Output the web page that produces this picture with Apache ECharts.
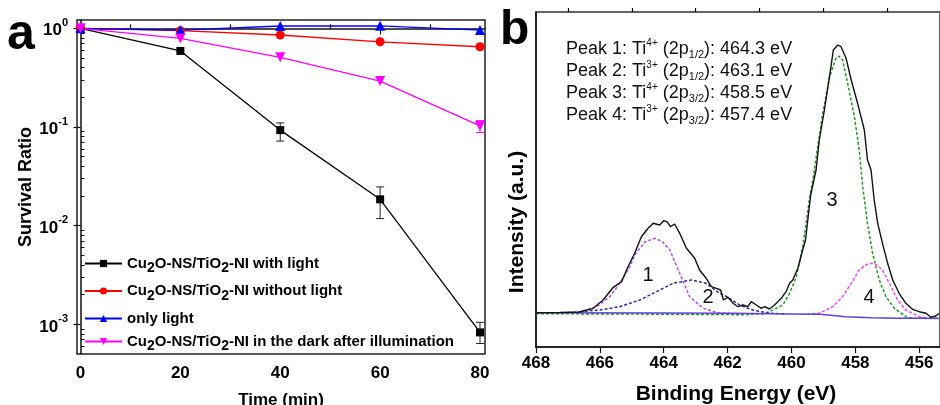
<!DOCTYPE html>
<html>
<head>
<meta charset="utf-8">
<script src="https://cdn.jsdelivr.net/npm/echarts@6/dist/echarts.min.js"></script>
<style>
  html, body { margin: 0; padding: 0; background: #fff; }
  #chart { width: 940px; height: 405px; }
</style>
</head>
<body>
<div id="chart"></div>
<script>
// ---- panel a : survival ratio vs time ----
const times = [0, 20, 40, 60, 80];
const withLight = [1.0, 0.59, 0.093, 0.0185, 0.00083];
const withoutLight = [1.0, 0.945, 0.855, 0.73, 0.65];
const onlyLight = [1.0, 0.96, 1.055, 1.06, 0.96];
const darkAfter = [1.0, 0.79, 0.508, 0.292, 0.1026];
// error bars [time, low, high]
const withLightErr = [[40, 0.072, 0.110], [60, 0.0118, 0.0247], [80, 0.00064, 0.00105]];
const darkAfterErr = [[80, 0.088, 0.116]];
const seriesNames = [
  'Cu2O-NS/TiO2-NI with light',
  'Cu2O-NS/TiO2-NI without light',
  'only light',
  'Cu2O-NS/TiO2-NI in the dark after illumination'
];
const timeTicks = [0, 20, 40, 60, 80];
const timeMinorTicks = [10, 30, 50, 70];
const decades = [-3, -2, -1, 0];

// ---- panel b : XPS Ti 2p ----
const measured = [
  [468.00, 34.3], [467.25, 34.5], [466.63, 35], [466.21, 38.7], [465.90, 47], [465.58, 59.7],
  [465.32, 65.3], [465.12, 80.3], [464.91, 93.7], [464.70, 110.3], [464.49, 118.7], [464.33, 123.7],
  [464.13, 122], [464.00, 126.3], [463.90, 125.3], [463.79, 120.3], [463.66, 123], [463.50, 113.7],
  [463.29, 98.7], [463.03, 88.7], [462.88, 77], [462.67, 68.7], [462.51, 60.3], [462.35, 58.7],
  [462.22, 57], [462.13, 47], [461.99, 49.7], [461.83, 43.7], [461.68, 40.3], [461.52, 42],
  [461.37, 40.3], [461.26, 45.3], [461.10, 42], [460.95, 38.7], [460.84, 40.3], [460.69, 38],
  [460.53, 42], [460.32, 48.7], [460.17, 55.3], [460.06, 63.7], [459.96, 67], [459.80, 78.7],
  [459.65, 97], [459.56, 107], [459.49, 127], [459.40, 152], [459.23, 177], [459.13, 207],
  [458.97, 237], [458.81, 270.3], [458.69, 297], [458.55, 302], [458.45, 300.3], [458.29, 288.7],
  [458.13, 267], [457.93, 243.7], [457.72, 217], [457.62, 187], [457.51, 177], [457.41, 147],
  [457.30, 123.7], [457.15, 103.7], [456.99, 83.7], [456.83, 67], [456.63, 53.7], [456.42, 43.7],
  [456.21, 37.7], [456.00, 35.3], [455.79, 33.7], [455.63, 29.7], [455.48, 31], [455.38, 33.7]
];
const peak1 = [
  [467.0, 34.5], [466.63, 35.3], [466.1, 40.3], [465.69, 50.3], [465.38, 63.7], [465.06, 80.3],
  [464.91, 92], [464.59, 105], [464.28, 108.7], [464.05, 105.5], [463.81, 97], [463.5, 73.7],
  [463.19, 50.3], [462.77, 38.7], [462.25, 33.7], [461.5, 33.5]
];
const peak2 = [
  [466.63, 35.3], [466.0, 37], [465.38, 40.3], [464.75, 47], [464.23, 55.3], [463.71, 63.7],
  [463.13, 67], [462.67, 63.7], [462.25, 53.7], [462.0, 50], [461.63, 42], [461.21, 37],
  [460.69, 33.7], [460.2, 33]
];
const peak3 = [
  [468, 33.3], [464, 32.8], [461.5, 32.3], [460.9, 33.2], [460.69, 35.3], [460.48, 38.7],
  [460.27, 42], [460.06, 53.7], [459.85, 70], [459.65, 100], [459.44, 147], [459.33, 167],
  [459.18, 200], [459.02, 233.7], [458.81, 270], [458.62, 288], [458.52, 291], [458.4, 287],
  [458.24, 263.7], [458.03, 230.3], [457.88, 197], [457.77, 160], [457.62, 123.7], [457.46, 93.7],
  [457.25, 67], [457.04, 50.3], [456.78, 38.7], [456.42, 30.3], [456.2, 28.7], [455.35, 28.5]
];
const peak4 = [
  [459.5, 32.8], [459.13, 33.7], [458.71, 40.3], [458.4, 50.3], [458.13, 63.7], [457.88, 77],
  [457.65, 82.5], [457.46, 83.7], [457.3, 81.5], [457.15, 77], [456.88, 60.3], [456.68, 47],
  [456.42, 37], [456.0, 30.3], [455.7, 28.7]
];
const background = [
  [468, 34.3], [464, 34], [462, 33.8], [460, 33], [459.1, 32.7], [458.3, 30.3],
  [457.5, 29.2], [456.7, 28.7], [455.35, 28.7]
];
const energyTicks = [456, 458, 460, 462, 464, 466, 468];
const energyMinorTicks = [457, 459, 461, 463, 465, 467];
const peakInfo = [
  'Peak 1: Ti{sup|4+} (2p{sub|1/2}): 464.3 eV',
  'Peak 2: Ti{sup|3+} (2p{sub|1/2}): 463.1 eV',
  'Peak 3: Ti{sup|4+} (2p{sub|3/2}): 458.5 eV',
  'Peak 4: Ti{sup|3+} (2p{sub|3/2}): 457.4 eV'
];

const FONT = '"Liberation Sans", Arial, sans-serif';
const chart = echarts.init(document.getElementById('chart'));

const logPts = (vals) => vals.map((v, i) => [times[i], Math.log10(v)]);
const errSeries = (data, color) => ({
  type: 'custom',
  xAxisIndex: 0, yAxisIndex: 0,
  silent: true,
  z: 1,
  data: data.map(d => [d[0], Math.log10(d[1]), Math.log10(d[2])]),
  renderItem: (params, api) => {
    const lo = api.coord([api.value(0), api.value(1)]);
    const hi = api.coord([api.value(0), api.value(2)]);
    const w = 4;
    return {
      type: 'group',
      children: [
        { type: 'line', shape: { x1: lo[0], y1: lo[1], x2: hi[0], y2: hi[1] }, style: { stroke: color, lineWidth: 1 } },
        { type: 'line', shape: { x1: lo[0] - w, y1: lo[1], x2: lo[0] + w, y2: lo[1] }, style: { stroke: color, lineWidth: 1 } },
        { type: 'line', shape: { x1: hi[0] - w, y1: hi[1], x2: hi[0] + w, y2: hi[1] }, style: { stroke: color, lineWidth: 1 } }
      ]
    };
  }
});

const lineA = (name, vals, color, symbol, size, rotate) => ({
  name,
  type: 'line',
  xAxisIndex: 0, yAxisIndex: 0,
  data: logPts(vals),
  symbol,
  symbolSize: size,
  symbolRotate: rotate || 0,
  lineStyle: { color, width: 1.3 },
  itemStyle: { color },
  z: 3
});

const lineB = (data, color, dashed, width) => ({
  type: 'line',
  xAxisIndex: 2, yAxisIndex: 2,
  data,
  symbol: 'none',
  silent: true,
  lineStyle: { color, width: width || 1.5, type: dashed ? [3, 2] : 'solid' },
  z: dashed ? 2 : 3
});

const axisLineStyle = { color: '#111', width: 1.5 };

// legend label: wrap plain parts in {n|..} and subscripts in {sub|2}
const legendLabel = name => name.split('2').map(p => p ? '{n|' + p + '}' : '').join('{sub|2}');

const option = {
  animation: false,
  backgroundColor: '#fff',
  textStyle: { fontFamily: FONT },
  grid: [
    { left: 77, top: 20, right: 455, bottom: 51, show: true, borderColor: '#222', borderWidth: 1.5 },
    { left: 536, top: 12, right: 0, bottom: 58, show: true, borderColor: '#333', borderWidth: 1.5 }
  ],
  xAxis: [
    {
      type: 'value', gridIndex: 0, min: -0.7, max: 81,
      axisLine: { lineStyle: axisLineStyle },
      axisTick: { show: true, length: 6, customValues: timeTicks, lineStyle: { color: '#111', width: 1.2 } },
      axisLabel: { customValues: timeTicks, margin: 11, color: '#000', fontWeight: 'bold', fontSize: 17, fontFamily: FONT },
      splitLine: { show: false }
    },
    {
      type: 'value', gridIndex: 0, min: -0.7, max: 81,
      axisLine: { show: false },
      axisTick: { show: true, length: 4, customValues: timeMinorTicks, lineStyle: { color: '#111', width: 1.2 } },
      axisLabel: { show: false },
      splitLine: { show: false }
    },
    {
      type: 'value', gridIndex: 1, min: 455.35, max: 468, inverse: true,
      axisLine: { lineStyle: axisLineStyle },
      axisTick: { show: true, length: 6, customValues: energyTicks, lineStyle: { color: '#111', width: 1.2 } },
      axisLabel: { customValues: energyTicks, margin: 8, color: '#000', fontWeight: 'bold', fontSize: 17, fontFamily: FONT },
      splitLine: { show: false }
    },
    {
      type: 'value', gridIndex: 1, min: 455.35, max: 468, inverse: true,
      axisLine: { show: false },
      axisTick: { show: true, length: 4, customValues: energyMinorTicks, lineStyle: { color: '#111', width: 1.2 } },
      axisLabel: { show: false },
      splitLine: { show: false }
    }
  ],
  yAxis: [
    {
      type: 'value', gridIndex: 0, min: -3.3, max: 0.084,
      axisLine: { show: true, lineStyle: axisLineStyle },
      axisTick: { show: true, length: 7, customValues: decades, lineStyle: { color: '#111', width: 1.2 } },
      axisLabel: {
        customValues: decades, margin: 9, color: '#000', fontFamily: FONT,
        formatter: v => '{b|10}{s|' + (v === 0 ? '0' : '-' + Math.abs(v)) + '}',
        rich: {
          b: { fontSize: 17, fontWeight: 'bold', fontFamily: FONT, color: '#000', lineHeight: 22, verticalAlign: 'bottom' },
          s: { fontSize: 11, fontWeight: 'bold', fontFamily: FONT, color: '#000', lineHeight: 12, verticalAlign: 'top' }
        }
      },
      splitLine: { show: false }
    },
    {
      type: 'value', gridIndex: 0, min: -3.3, max: 0.084,
      axisLine: { show: false },
      axisTick: {
        show: true, length: 4,
        customValues: [-3, -2, -1, 0].flatMap(d => [2, 3, 4, 5, 6, 7, 8, 9].map(k => d - 1 + Math.log10(k))).filter(v => v > -3.3),
        lineStyle: { color: '#111', width: 1 }
      },
      axisLabel: { show: false },
      splitLine: { show: false }
    },
    {
      type: 'value', gridIndex: 1, min: 0, max: 335,
      axisLine: { show: true, lineStyle: axisLineStyle },
      axisTick: { show: false },
      axisLabel: { show: false },
      splitLine: { show: false }
    }
  ],
  legend: {
    data: seriesNames,
    orient: 'vertical',
    left: 79, top: 251,
    itemWidth: 37, itemHeight: 9,
    itemGap: 8,
    selectedMode: false,
    textStyle: {
      fontFamily: FONT, fontSize: 15, fontWeight: 'bold', color: '#000',
      rich: {
        n: { fontFamily: FONT, fontSize: 15, fontWeight: 'bold', color: '#000', lineHeight: 24, verticalAlign: 'middle' },
        sub: { fontFamily: FONT, fontSize: 14, fontWeight: 'bold', color: '#000', lineHeight: 9, verticalAlign: 'bottom' }
      }
    },
    formatter: legendLabel
  },
  series: [
    lineA(seriesNames[0], withLight, '#000000', 'rect', 8),
    lineA(seriesNames[1], withoutLight, '#ff0000', 'circle', 9),
    lineA(seriesNames[2], onlyLight, '#0000ff', 'triangle', 10),
    lineA(seriesNames[3], darkAfter, '#ff00ff', 'triangle', 10, 180),
    errSeries(withLightErr, '#222'),
    errSeries(darkAfterErr, '#ff00ff'),
    lineB(background, '#5b44d8', false, 1.5),
    lineB(peak3, '#1f9a1f', true),
    lineB(peak1, '#b24cf2', true),
    lineB(peak2, '#2b2b9e', true),
    lineB(peak4, '#ff3cff', true),
    lineB(measured, '#111111', false, 1.4)
  ],
  graphic: [
    { type: 'text', left: 7, top: 10, style: { text: 'a', font: 'bold 50px ' + FONT, fill: '#000' } },
    { type: 'text', left: 500, top: 7, style: { text: 'b', font: 'bold 48px ' + FONT, fill: '#000' } },
    {
      type: 'text', x: 26, y: 187, rotation: Math.PI / 2,
      style: { text: 'Survival Ratio', font: 'bold 18px ' + FONT, fill: '#000', align: 'center', verticalAlign: 'middle' }
    },
    {
      type: 'text', x: 281, y: 400,
      style: { text: 'Time (min)', font: 'bold 17px ' + FONT, fill: '#000', align: 'center', verticalAlign: 'middle' }
    },
    {
      type: 'text', x: 517, y: 222, rotation: Math.PI / 2,
      style: { text: 'Intensity (a.u.)', font: 'bold 21px ' + FONT, fill: '#000', align: 'center', verticalAlign: 'middle' }
    },
    {
      type: 'text', x: 736, y: 394,
      style: { text: 'Binding Energy (eV)', font: 'bold 21px ' + FONT, fill: '#000', align: 'center', verticalAlign: 'middle' }
    },
    {
      type: 'text', left: 566, top: 38,
      style: {
        text: peakInfo.join('\n'),
        font: '18px ' + FONT, fill: '#111', lineHeight: 22,
        rich: {
          sup: { fontSize: 10, fontFamily: FONT, fill: '#111', lineHeight: 11, verticalAlign: 'top' },
          sub: { fontSize: 11, fontFamily: FONT, fill: '#111', lineHeight: 11, verticalAlign: 'bottom' }
        }
      }
    },
    { type: 'text', x: 648, y: 275, style: { text: '1', font: '20px ' + FONT, fill: '#111', align: 'center', verticalAlign: 'middle' } },
    { type: 'text', x: 708, y: 297, style: { text: '2', font: '20px ' + FONT, fill: '#111', align: 'center', verticalAlign: 'middle' } },
    { type: 'text', x: 832, y: 200, style: { text: '3', font: '20px ' + FONT, fill: '#111', align: 'center', verticalAlign: 'middle' } },
    { type: 'text', x: 869, y: 297, style: { text: '4', font: '20px ' + FONT, fill: '#111', align: 'center', verticalAlign: 'middle' } }
  ]
};

chart.setOption(option);
</script>
</body>
</html>
